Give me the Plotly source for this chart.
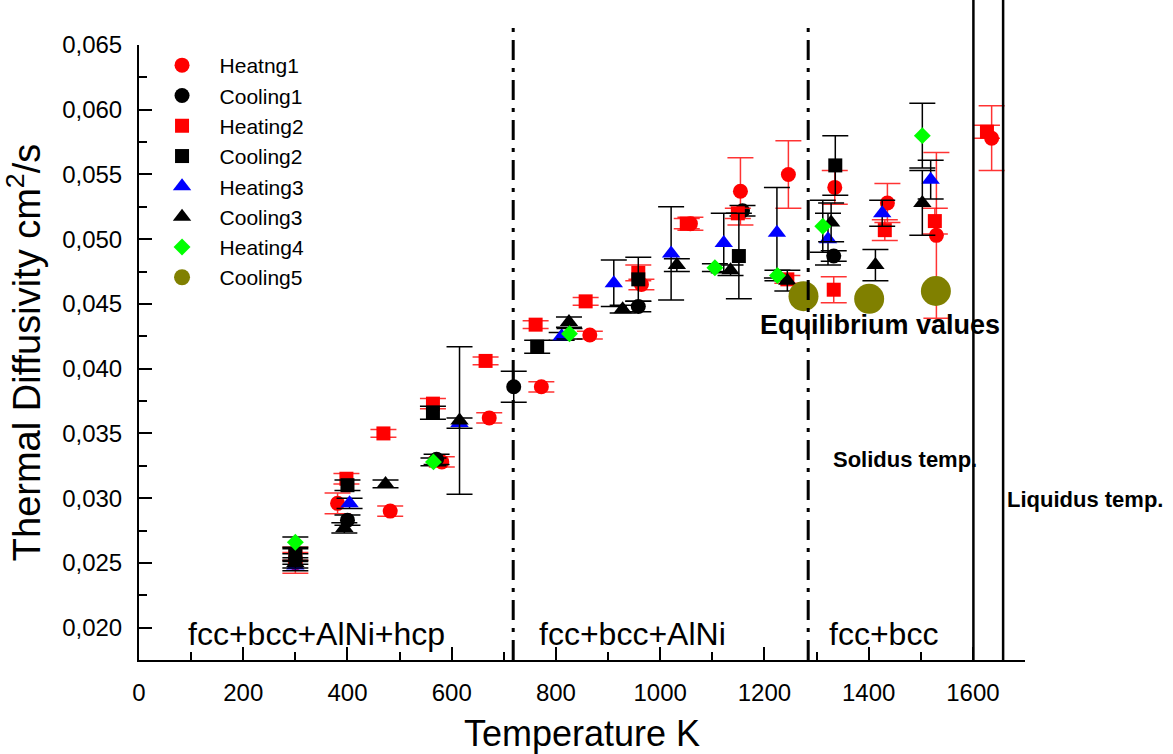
import plotly.graph_objects as go

# ---------------- data ----------------
h1_T = [300, 381, 482, 581, 672, 772, 865, 964, 1058, 1154, 1246, 1335, 1436, 1530, 1636]
h1_D = [0.0250, 0.0296, 0.0290, 0.0328, 0.0362, 0.0386, 0.0426, 0.0465, 0.0512, 0.0537, 0.0550, 0.0540, 0.0528, 0.0503, 0.0578]
h1_E = [0.0008, 0.0008, 0.0004, 0.0004, 0.0004, 0.0004, 0.0003, 0.0004, 0.0005, 0.0026, 0.0026, 0.0013, 0.0015, 0.0064, 0.0025]

c1_T = [300, 400, 571, 719, 958, 1158, 1333]
c1_D = [0.0253, 0.0283, 0.0330, 0.0386, 0.0448, 0.0522, 0.0487]
c1_E = [0.0004, 0.0004, 0.0004, 0.0012, 0.0004, 0.0004, 0.0004]

h2_T = [300, 398, 469, 564, 665, 761, 857, 958, 1051, 1149, 1244, 1333, 1431, 1527, 1627]
h2_D = [0.0257, 0.0315, 0.0350, 0.0373, 0.0406, 0.0434, 0.0452, 0.0474, 0.0512, 0.0520, 0.0469, 0.0461, 0.0507, 0.0514, 0.0583]
h2_E = [0.0005, 0.0004, 0.0003, 0.0004, 0.0003, 0.0003, 0.0003, 0.0006, 0.0004, 0.0004, 0.0003, 0.0010, 0.0008, 0.0010, 0.0005]

c2_T = [300, 400, 564, 764, 958, 1151, 1336]
c2_D = [0.0256, 0.0310, 0.0366, 0.0417, 0.0469, 0.0487, 0.0557]
c2_E = [0.0005, 0.0004, 0.0005, 0.0005, 0.0017, 0.0033, 0.0023]

h3_T = [300, 404, 615, 811, 911, 1021, 1122, 1224, 1322, 1426, 1519]
h3_D = [0.0248, 0.0296, 0.0358, 0.0425, 0.0466, 0.0489, 0.0497, 0.0505, 0.0500, 0.0520, 0.0546]
h3_E = [0.0004, 0.0004, 0.0004, 0.0003, 0.0018, 0.0036, 0.0023, 0.0035, 0.0020, 0.0010, 0.0015]

c3_T = [300, 394, 473, 615, 825, 928, 1032, 1135, 1244, 1328, 1413, 1503]
c3_D = [0.0250, 0.0277, 0.0311, 0.0360, 0.0436, 0.0446, 0.0480, 0.0476, 0.0468, 0.0513, 0.0480, 0.0528]
c3_E = [0.0004, 0.0004, 0.0003, 0.0057, 0.0004, 0.0003, 0.0005, 0.0004, 0.0008, 0.0015, 0.0012, 0.0025]

h4_T = [300, 565, 826, 1105, 1225, 1312, 1503]
h4_D = [0.0266, 0.0328, 0.0427, 0.0478, 0.0472, 0.0510, 0.0580]
h4_E = [0.0004, 0.0003, 0.0004, 0.0003, 0.0004, 0.0020, 0.0025]

c5_T = [1275, 1401, 1529]
c5_D = [0.0456, 0.0454, 0.0460]

phase_lines_dashdot = [718, 1284]
phase_lines_solid = [1601, 1658]

FONT = "Liberation Sans, Arial, sans-serif"
NB = "\u00a0\u00a0\u00a0"

fig = go.Figure()

def add_series(name, T, D, E, symbol, color, size, ecolor):
    fig.add_trace(go.Scatter(
        x=T, y=D, mode="markers", name=NB + name,
        marker=dict(symbol=symbol, color=color, size=size, line=dict(width=0)),
        error_y=dict(type="data", array=E, visible=True, color=ecolor, thickness=1.5, width=13),
        cliponaxis=False,
    ))

add_series("Heatng1", h1_T, h1_D, h1_E, "circle", "#ff0000", 15, "rgba(255,0,0,0.8)")
add_series("Cooling1", c1_T, c1_D, c1_E, "circle", "#000000", 15, "#000000")
add_series("Heating2", h2_T, h2_D, h2_E, "square", "#ff0000", 14, "rgba(255,0,0,0.8)")
add_series("Cooling2", c2_T, c2_D, c2_E, "square", "#000000", 14, "#000000")
add_series("Heating3", h3_T, h3_D, h3_E, "triangle-up", "#0000ff", 16, "#000000")
add_series("Cooling3", c3_T, c3_D, c3_E, "triangle-up", "#000000", 16, "#000000")
add_series("Heating4", h4_T, h4_D, h4_E, "diamond", "#00ff00", 13, "#000000")

fig.add_trace(go.Scatter(
    x=c5_T, y=c5_D, mode="markers", name=NB + "Cooling5",
    marker=dict(symbol="circle", color="#808000", size=30, line=dict(width=0)),
    cliponaxis=False,
))

shapes = []
for xv in phase_lines_dashdot:
    shapes.append(dict(type="line", xref="x", yref="paper", x0=xv, x1=xv, y0=0, y1=1.033,
                       line=dict(color="black", width=3, dash="20px,8px,4px,8px")))
for xv in phase_lines_solid:
    shapes.append(dict(type="line", xref="x", yref="paper", x0=xv, x1=xv, y0=0, y1=1.08,
                       line=dict(color="black", width=2.5)))

annotations = [
    dict(text="fcc+bcc+AlNi+hcp", x=340, y=0.0195, xref="x", font=dict(size=32)),
    dict(text="fcc+bcc+AlNi", x=947, y=0.0195, xref="x", font=dict(size=32)),
    dict(text="fcc+bcc", x=1428, y=0.0195, xref="x", font=dict(size=32)),
    dict(text="<b>Equilibrium values</b>", x=1422, y=0.0434, xref="x", font=dict(size=27)),
    dict(text="<b>Solidus temp.</b>", x=1470, y=0.0330, xref="x", font=dict(size=22)),
    dict(text="<b>Liquidus temp.</b>", x=1.068, y=0.0299, xref="paper", font=dict(size=22)),
]
for a in annotations:
    a.update(yref="y", showarrow=False, xanchor="center", yanchor="middle")
    a["font"].update(family=FONT, color="black")

fig.update_layout(
    width=1173, height=754,
    margin=dict(l=139, r=148, t=45, b=94),
    paper_bgcolor="white", plot_bgcolor="white",
    separators=",.",
    font=dict(family=FONT, color="black", size=24),
    shapes=shapes, annotations=annotations,
    showlegend=True,
    legend=dict(x=0.026, y=1.0, xanchor="left", yanchor="top",
                font=dict(size=21, family=FONT), bgcolor="rgba(0,0,0,0)",
                itemsizing="trace", tracegroupgap=0),
)

fig.update_xaxes(
    range=[0, 1700], tick0=0, dtick=200, showgrid=False, zeroline=False,
    showline=True, linecolor="black", linewidth=2, automargin=False,
    ticks="inside", ticklen=13, tickwidth=1.5, tickcolor="black",
    minor=dict(dtick=100, ticks="inside", ticklen=8, tickwidth=1.5, tickcolor="black"),
    tickfont=dict(size=24), ticklabelstandoff=10,
    title=dict(text="Temperature K", font=dict(size=36), standoff=16),
)
fig.update_yaxes(
    range=[0.0175, 0.065], tick0=0.02, dtick=0.005, tickformat=".3f",
    showgrid=False, zeroline=False, automargin=False,
    showline=True, linecolor="black", linewidth=2,
    ticks="inside", ticklen=13, tickwidth=1.5, tickcolor="black",
    minor=dict(dtick=0.0025, ticks="inside", ticklen=8, tickwidth=1.5, tickcolor="black"),
    tickfont=dict(size=24), ticklabelstandoff=10,
    title=dict(text="Thermal Diffusivity cm<sup>2</sup>/s\u00a0\u00a0", font=dict(size=38), standoff=10),
)

fig.write_html("out.html")
